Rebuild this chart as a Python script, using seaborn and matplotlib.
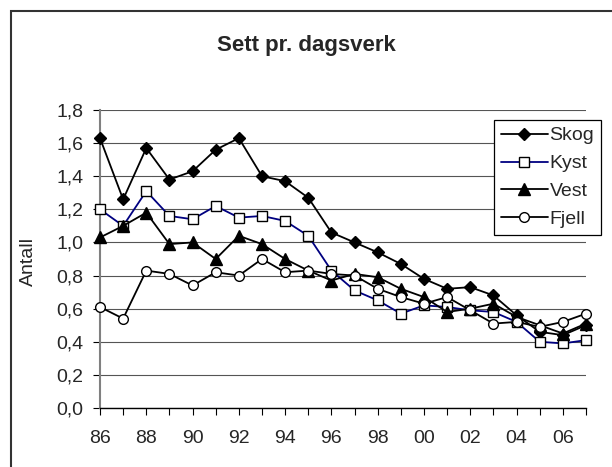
import matplotlib
matplotlib.use("Agg")

import matplotlib.pyplot as plt
import matplotlib.ticker as mticker
from matplotlib.patches import Rectangle
import seaborn as sns

years = list(range(1986, 2008))

skog = [1.63, 1.26, 1.57, 1.38, 1.43, 1.56, 1.63, 1.40, 1.37, 1.27, 1.06,
        1.00, 0.94, 0.87, 0.78, 0.72, 0.73, 0.68, 0.56, 0.46, 0.44, 0.50]
kyst = [1.20, 1.10, 1.31, 1.16, 1.14, 1.22, 1.15, 1.16, 1.13, 1.04, 0.83,
        0.71, 0.65, 0.57, 0.62, 0.61, 0.59, 0.58, 0.52, 0.40, 0.39, 0.41]
vest = [1.03, 1.10, 1.18, 0.99, 1.00, 0.90, 1.04, 0.99, 0.90, 0.83, 0.77,
        0.81, 0.79, 0.72, 0.67, 0.58, 0.60, 0.63, 0.55, 0.50, 0.45, 0.51]
fjell = [0.61, 0.54, 0.83, 0.81, 0.74, 0.82, 0.80, 0.90, 0.82, 0.83, 0.81,
         0.80, 0.72, 0.67, 0.63, 0.67, 0.59, 0.51, 0.52, 0.49, 0.52, 0.57]

title = "Sett pr. dagsverk"
y_title = "Antall"

# name, values, line colour, marker, face, size
series = [
    ("Skog", skog, "black", "D", "black", 6.5),
    ("Kyst", kyst, "#000080", "s", "white", 7),
    ("Vest", vest, "black", "^", "black", 8),
    ("Fjell", fjell, "black", "o", "white", 7),
]

sns.set_style("white")
plt.rcParams["font.family"] = ["Liberation Sans", "DejaVu Sans"]

W, H = 612, 467
fig = plt.figure(figsize=(W / 100, H / 100), dpi=100, facecolor="white")
ax = fig.add_axes([100 / W, 1 - 408 / H, 486 / W, 298 / H])

for name, vals, col, mk, face, ms in series:
    sns.lineplot(x=years, y=vals, ax=ax, color=col, marker=mk, markersize=ms,
                 markerfacecolor=face, markeredgecolor="black",
                 markeredgewidth=1.0, linewidth=1.3, label=name,
                 clip_on=False, zorder=3)

ax.set_xlim(1986, 2007)
ax.set_ylim(0, 1.8)
ax.xaxis.set_major_locator(mticker.MultipleLocator(2))
ax.xaxis.set_minor_locator(mticker.MultipleLocator(1))
ax.xaxis.set_major_formatter(mticker.FuncFormatter(lambda v, p: f"{int(round(v)) % 100:02d}"))
ax.yaxis.set_major_locator(mticker.MultipleLocator(0.2))
ax.yaxis.set_major_formatter(mticker.FuncFormatter(lambda v, p: f"{v:.1f}".replace(".", ",")))

ax.yaxis.grid(True, color="#555555", linewidth=0.8)
ax.xaxis.grid(False)
ax.set_axisbelow(True)

for s in ["top", "right"]:
    ax.spines[s].set_visible(False)
ax.spines["left"].set_color("#808080")
ax.spines["left"].set_linewidth(1.5)
ax.spines["bottom"].set_color("black")
ax.spines["bottom"].set_linewidth(1.0)

ax.tick_params(axis="x", which="both", direction="out", length=5, width=0.8,
               color="black", labelsize=14, pad=11, bottom=True)
ax.tick_params(axis="y", direction="out", length=5, width=0.8,
               color="black", labelsize=14, pad=7, left=True)
ax.set_xlabel("")
ax.set_ylabel("")

fig.text(28 / W, 1 - 262 / H, y_title, rotation=90, ha="center", va="center", fontsize=14)
fig.text(0.5, 1 - 45 / H, title, ha="center", va="center", fontsize=16, fontweight="bold")

leg = ax.legend(loc="upper right", bbox_to_anchor=(601 / W, 1 - 120 / H),
                bbox_transform=fig.transFigure, borderaxespad=0, fontsize=14,
                frameon=True, fancybox=False, framealpha=1, edgecolor="black",
                handlelength=2.4, handletextpad=0.1, labelspacing=0.53, borderpad=0.35)
leg.get_frame().set_linewidth(0.9)

fig.add_artist(Rectangle((11 / W, -0.1), 1.2, (1 - 11 / H) + 0.1, transform=fig.transFigure,
                         fill=False, edgecolor="#333333", linewidth=1.5))

fig.savefig("out.png", dpi=100, facecolor="white")
